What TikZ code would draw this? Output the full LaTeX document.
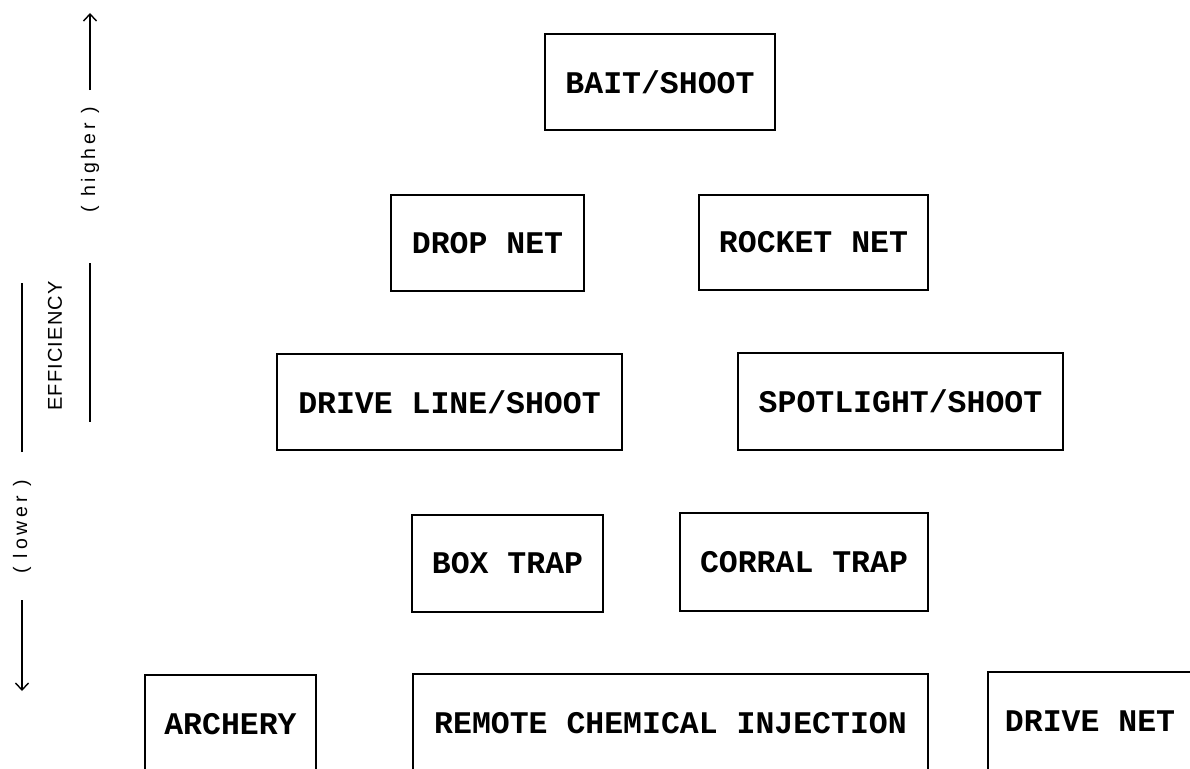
\documentclass[tikz,border=0pt]{standalone}
\usepackage{fontspec}
\newfontfamily\typefont{Liberation Mono}
\newfontfamily\labelfont[LetterSpace=6]{Liberation Sans}
\newfontfamily\spacedfont[LetterSpace=20]{Liberation Sans}
\usetikzlibrary{arrows.meta}

\begin{document}
\begin{tikzpicture}[x=1pt, y=-1pt,
    method/.style={draw, line width=1.7pt, inner sep=0pt,
      font={\typefont\bfseries\fontsize{31.5}{36}\selectfont}},
    axislabel/.style={rotate=90, inner sep=0pt,
      font={\spacedfont\fontsize{19.5}{22}\selectfont}},
    axisline/.style={line width=1.5pt},
    tip/.style={-{Straight Barb[length=7pt,width=13pt,line width=1.4pt]}}]
    \useasboundingbox (0,0) rectangle (1190,768);
    % efficiency scale on the left
    \node[axislabel] (lower) at (22,527) {( lower )};
    \node[axislabel] (higher) at (90,160) {( higher )};
    \node[rotate=90, inner sep=0pt, font={\labelfont\fontsize{20}{22}\selectfont}] (eff) at (55,346) {EFFICIENCY};
    \coordinate (lowtip) at (22,691);
    \coordinate (lowstart) at (22,600);
    \coordinate (lowend) at (22,452);
    \coordinate (lowtop) at (22,283);
    \coordinate (hitip) at (90,13);
    \coordinate (histart) at (90,90);
    \coordinate (hiend) at (90,263);
    \coordinate (hibot) at (90,422);
    \draw[axisline, tip] (lowstart) -- (lowtip);
    \draw[axisline] (lowend) -- (lowtop);
    \draw[axisline, tip] (histart) -- (hitip);
    \draw[axisline] (hiend) -- (hibot);
    % capture methods
    \node[method, minimum width=230, minimum height=96] (bait) at (660,82) {BAIT/SHOOT};
    \node[method, minimum width=193, minimum height=96] (drop) at (487.5,243) {DROP NET};
    \node[method, minimum width=229, minimum height=95] (rocket) at (813.5,242.5) {ROCKET NET};
    \node[method, minimum width=345, minimum height=96] (driveline) at (449.5,402) {DRIVE LINE/SHOOT};
    \node[method, minimum width=325, minimum height=97] (spotlight) at (900.5,401.5) {SPOTLIGHT/SHOOT};
    \node[method, minimum width=191, minimum height=97] (boxtrap) at (507.5,563.5) {BOX TRAP};
    \node[method, minimum width=248, minimum height=98] (corral) at (804,562) {CORRAL TRAP};
    \node[method, minimum width=171, minimum height=98] (archery) at (230.5,724) {ARCHERY};
    \node[method, minimum width=515, minimum height=98] (remote) at (670.5,723) {REMOTE CHEMICAL INJECTION};
    \node[method, minimum width=204, minimum height=98] (drivenet) at (1090,721) {DRIVE NET};
\end{tikzpicture}
\end{document}
